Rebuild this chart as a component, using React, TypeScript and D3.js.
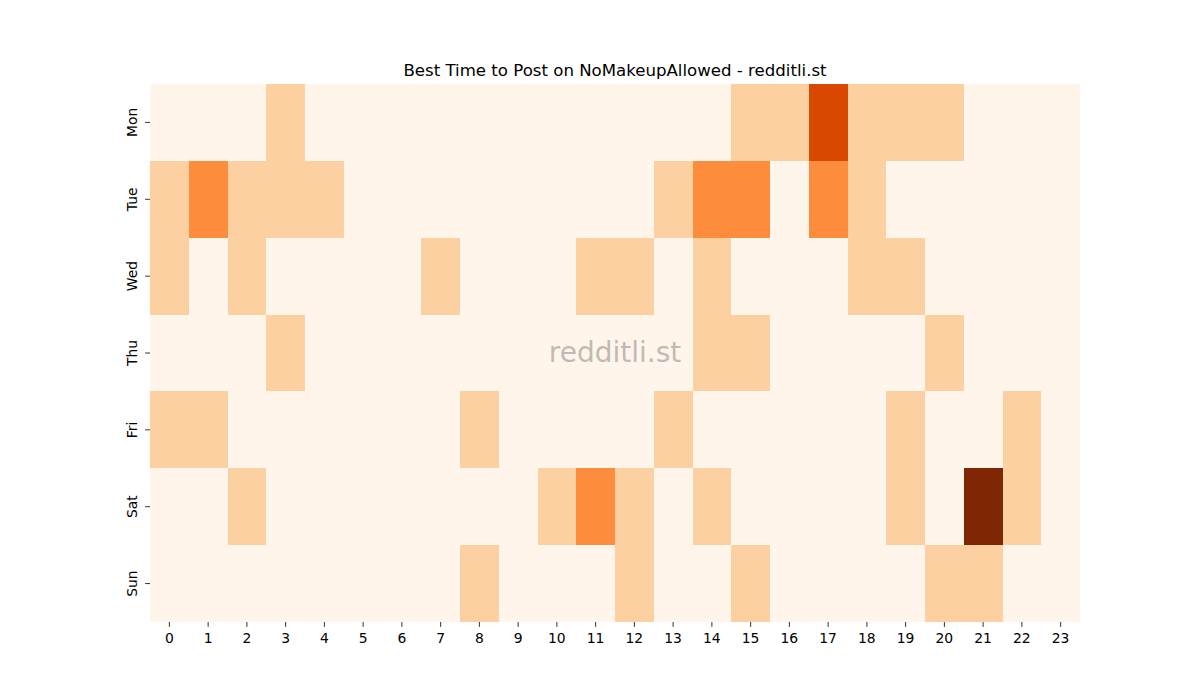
import React from "react";
import * as d3 from "d3";

const days = ["Mon", "Tue", "Wed", "Thu", "Fri", "Sat", "Sun"];
const hours = ["0","1","2","3","4","5","6","7","8","9","10","11","12","13","14","15","16","17","18","19","20","21","22","23"];

const mon = [0,0,0,1,0,0,0,0,0,0,0,0,0,0,0,1,1,3,1,1,1,0,0,0];
const tue = [1,2,1,1,1,0,0,0,0,0,0,0,0,1,2,2,0,2,1,0,0,0,0,0];
const wed = [1,0,1,0,0,0,0,1,0,0,0,1,1,0,1,0,0,0,1,1,0,0,0,0];
const thu = [0,0,0,1,0,0,0,0,0,0,0,0,0,0,1,1,0,0,0,0,1,0,0,0];
const fri = [1,1,0,0,0,0,0,0,1,0,0,0,0,1,0,0,0,0,0,1,0,0,1,0];
const sat = [0,0,1,0,0,0,0,0,0,0,1,2,1,0,1,0,0,0,0,1,0,4,1,0];
const sun = [0,0,0,0,0,0,0,0,1,0,0,0,1,0,0,1,0,0,0,0,1,1,0,0];
const rows = [mon, tue, wed, thu, fri, sat, sun];

const W = 1200, H = 700;
const left = 150, right = 1080, top = 84, bottom = 622;

export default function App() {
  const x = d3.scaleBand().domain(hours).range([left, right]);
  const y = d3.scaleBand().domain(days).range([top, bottom]);
  const color = d3.scaleLinear<string>()
    .domain([0, 1, 2, 3, 4])
    .range(["#fff5eb", "#fdd0a2", "#fd8d3c", "#d94801", "#7f2704"]);
  const font = "DejaVu Sans, sans-serif";
  return (
    <svg width={W} height={H} style={{ position: "absolute", left: 0, top: 0, background: "#fff" }}>
      <rect x={0} y={0} width={W} height={H} fill="#fff" />
      <g shapeRendering="crispEdges">
        {rows.map((r, i) =>
          r.map((v, j) => (
            <rect key={`${i}-${j}`} x={x(hours[j])!} y={y(days[i])!}
              width={x.bandwidth()} height={y.bandwidth()} fill={color(v)} />
          ))
        )}
      </g>
      <text x={(left + right) / 2} y={362} textAnchor="middle" fontFamily={font} fontSize={28}
        fill="#808080" fillOpacity={0.5}>redditli.st</text>
      <text x={(left + right) / 2} y={76} textAnchor="middle" fontFamily={font} fontSize={16.6} fill="#000">
        Best Time to Post on NoMakeupAllowed - redditli.st
      </text>
      {hours.map((h) => {
        const cx = x(h)! + x.bandwidth() / 2;
        return (
          <g key={h}>
            <line x1={cx} x2={cx} y1={bottom} y2={bottom + 4.9} stroke="#000" strokeWidth={0.8} />
            <text x={cx} y={bottom + 20.5} textAnchor="middle" fontFamily={font} fontSize={13.9} fill="#000">{h}</text>
          </g>
        );
      })}
      {days.map((d) => {
        const cy = y(d)! + y.bandwidth() / 2;
        return (
          <g key={d}>
            <line x1={left - 4.9} x2={left} y1={cy} y2={cy} stroke="#000" strokeWidth={0.8} />
            <text transform={`translate(${left - 13},${cy}) rotate(-90)`} textAnchor="middle"
              fontFamily={font} fontSize={13.9} fill="#000">{d}</text>
          </g>
        );
      })}
    </svg>
  );
}
